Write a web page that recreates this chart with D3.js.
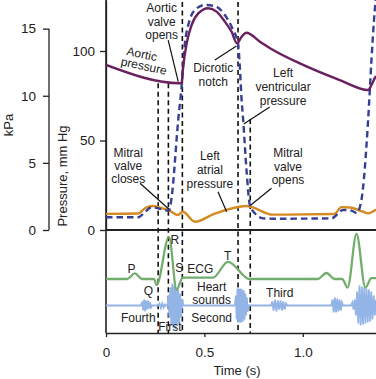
<!DOCTYPE html>
<html>
<head>
<meta charset="utf-8">
<script src="https://cdn.jsdelivr.net/npm/d3@7"></script>
<style>
  body { margin: 0; background: #fff; }
  text { font-family: "Liberation Sans", Arial, sans-serif; font-size: 12px; fill: #222; }
</style>
</head>
<body>
<div id="chart"></div>
<script>
// time (s), pressure (mm Hg)
let aorticPts = [[0, 92.2], [0.376, 82], [0.384, 82.2], [0.392, 91.2], [0.41, 104.3], [0.435, 114.5],
    [0.469, 121], [0.519, 123.9], [0.562, 122], [0.604, 116.4], [0.638, 110.8], [0.666, 104.3],
    [0.689, 108], [0.714, 110.2], [0.782, 105.2], [0.849, 100.6], [0.985, 93.1], [1.188, 83.8],
    [1.332, 78.2], [1.349, 81], [1.365, 84.7], [1.372, 86]];
let lvPts = [[0, 7.1], [0.164, 7.1], [0.198, 10], [0.232, 12.7], [0.283, 11.6], [0.32, 10.8],
    [0.333, 17.9], [0.367, 61.5], [0.384, 80], [0.401, 104.5], [0.418, 114.5], [0.452, 122.9],
    [0.503, 125.7], [0.553, 125.1], [0.604, 120.1], [0.646, 111.7], [0.671, 104.3], [0.68, 91.2],
    [0.688, 74.5], [0.697, 61.5], [0.714, 33.5], [0.731, 14], [0.765, 8.4], [0.798, 6.5],
    [0.85, 6.3], [1.146, 6.5], [1.205, 11.2], [1.247, 10.8], [1.274, 9.5], [1.298, 16.8],
    [1.332, 61.5], [1.349, 95], [1.365, 122], [1.372, 130]];
let atrialPts = [[0, 9.0], [0.162, 9.2], [0.2, 12.3], [0.239, 13.4], [0.29, 12], [0.32, 11],
    [0.365, 8.4], [0.39, 10.2], [0.452, 4.6], [0.55, 9], [0.714, 13.4], [0.848, 8.6],
    [1.16, 8.9], [1.196, 12.8], [1.239, 12.6], [1.306, 10.2], [1.332, 9.3], [1.372, 11.4]];

// ECG, arbitrary units (R wave ~ 1)
let ecgPts = [[0, 0], [0.107, 0], [0.147, 0.13], [0.183, 0], [0.244, 0], [0.257, -0.14],
    [0.32, 0.98], [0.359, -0.25], [0.39, 0.03], [0.543, 0.03], [0.62, 0.4], [0.73, 0],
    [1.076, 0], [1.12, 0.14], [1.162, 0], [1.2, 0], [1.228, -0.2], [1.273, 1.05],
    [1.318, -0.2], [1.349, 0.02], [1.372, 0.02]];

// heart sounds, arbitrary amplitude
let soundPts = [[0, 0], [0.178, 0], [0.184, 0.2], [0.189, -0.25], [0.194, 0.3], [0.199, -0.3],
    [0.204, 0.25], [0.209, -0.2], [0.214, 0.25], [0.219, -0.15], [0.224, 0.15], [0.229, -0.1],
    [0.234, 0], [0.265, 0], [0.272, 0.1], [0.279, -0.12], [0.286, 0.1], [0.293, -0.1],
    [0.3, 0.05], [0.306, 0], [0.312, 0], [0.318, 0.5], [0.322, -0.6], [0.327, 0.9], [0.332, -1.0],
    [0.337, 1.1], [0.342, -1.1], [0.347, 1.0], [0.352, -1.2], [0.357, 0.9], [0.362, -1.0],
    [0.367, 0.8], [0.372, -0.9], [0.377, 0.6], [0.382, -0.6], [0.387, 0.3], [0.392, 0],
    [0.655, 0], [0.66, 0.5], [0.664, -0.7], [0.668, 0.85], [0.672, -0.85], [0.676, 0.85],
    [0.68, -0.85], [0.684, 0.85], [0.688, -0.85], [0.692, 0.8], [0.696, -0.8], [0.7, 0.75],
    [0.704, -0.7], [0.708, 0.6], [0.712, -0.5], [0.716, 0.4], [0.72, -0.3], [0.725, 0],
    [0.838, 0], [0.845, 0.2], [0.852, -0.25], [0.859, 0.3], [0.866, -0.3], [0.873, 0.25],
    [0.88, -0.2], [0.887, 0.25], [0.894, -0.25], [0.901, 0.2], [0.908, -0.2], [0.915, 0.1],
    [0.922, 0], [1.145, 0], [1.151, 0.3], [1.157, -0.35], [1.163, 0.4], [1.169, -0.35],
    [1.175, 0.35], [1.181, -0.3], [1.187, 0.3], [1.193, -0.25], [1.199, 0.15], [1.205, 0],
    [1.245, 0], [1.252, 0.15], [1.258, -0.2], [1.264, 0.3], [1.27, -0.5], [1.276, 0.7],
    [1.282, -0.9], [1.288, 1.0], [1.294, -1.0], [1.3, 0.95], [1.306, -0.95], [1.312, 0.9],
    [1.318, -0.9], [1.324, 0.85], [1.33, -0.85], [1.336, 0.8], [1.342, -0.8], [1.348, 0.7],
    [1.354, -0.7], [1.36, 0.5], [1.366, -0.5], [1.372, 0.3]];

// event markers: time, top pressure (null = full height)
let eventTimes = [0.265, 0.317, 0.388, 0.671, 0.733];
let eventTops = [82, 82, null, null, 62];

let timeTicks = [0, 0.5, 1.0];
let mmTicks = [0, 50, 100];
let kpaTicks = [0, 5, 10, 15];

// annotations in data units: [text, time, pressure]
let pressureNotes = [
    ['Aortic', 0.283, 121.8], ['valve', 0.283, 114.2], ['opens', 0.283, 106.7],
    ['Dicrotic', 0.545, 88], ['notch', 0.545, 80.2],
    ['Left', 0.9, 85.5], ['ventricular', 0.9, 77.7], ['pressure', 0.9, 69.8],
    ['Mitral', 0.113, 40.8], ['valve', 0.113, 33.5], ['closes', 0.113, 26],
    ['Left', 0.528, 39.1], ['atrial', 0.528, 31.3], ['pressure', 0.528, 23.5],
    ['Mitral', 0.925, 40.8], ['valve', 0.925, 33.2], ['opens', 0.925, 25.7]
];
let tiltedNotes = [['Aortic', 0.178, 96.1], ['pressure', 0.188, 89.4]];
let leaders = [
    [0.316, 106.1, 0.367, 82.9], [0.553, 95, 0.663, 102.8], [0.832, 68.7, 0.7, 59.2],
    [0.173, 26.1, 0.32, 11.6], [0.569, 21.4, 0.613, 10.2], [0.841, 23.3, 0.736, 14]
];
// annotations for ECG/sound panel: [text, time, ecg units]
let ecgNotes = [
    ['P', 0.13, 0.14], ['Q', 0.215, -0.372], ['R', 0.35, 0.81], ['S', 0.372, 0.17],
    ['ECG', 0.479, 0.15], ['T', 0.618, 0.44], ['Heart', 0.537, -0.29], ['sounds', 0.537, -0.59],
    ['Fourth', 0.164, -0.99], ['First', 0.325, -1.2], ['Second', 0.537, -0.99], ['Third', 0.883, -0.41]
];

let width = 376, height = 379;

let svg = d3.select('#chart').append('svg')
    .attr('width', width)
    .attr('height', height);

let x = d3.scaleLinear().domain([0, 1.372]).range([106, 376]);
let yP = d3.scaleLinear().domain([0, 128.5]).range([230, 0]);
let yK = d3.scaleLinear().domain([0, 128.5 / 7.5]).range([230, 0]);
let yEcg = d3.scaleLinear().domain([0, 1]).range([279, 236]);
let ySnd = d3.scaleLinear().domain([-1, 1]).range([325.5, 285.5]);

svg.append('clipPath').attr('id', 'plotclip')
    .append('rect').attr('x', 106).attr('y', 0).attr('width', 270).attr('height', 333);

// event dashed lines
svg.append('g').selectAll('line')
    .data(eventTimes)
    .join('line')
    .attr('x1', d => x(d)).attr('x2', d => x(d))
    .attr('y1', (d, i) => eventTops[i] == null ? 2 : yP(eventTops[i]))
    .attr('y2', 333)
    .attr('stroke', '#111')
    .attr('stroke-width', 1.6)
    .attr('stroke-dasharray', '5,3.5');

// axes
let kAxis = svg.append('g')
    .attr('transform', 'translate(49,0)')
    .call(d3.axisLeft(yK).tickValues(kpaTicks).tickSize(6).tickPadding(7).tickSizeOuter(0));
let pAxis = svg.append('g')
    .attr('transform', 'translate(106,0)')
    .call(d3.axisLeft(yP).tickValues(mmTicks).tickSize(6).tickPadding(5).tickSizeOuter(0));
let tAxis = svg.append('g')
    .attr('transform', 'translate(0,333)')
    .call(d3.axisBottom(x).tickValues(timeTicks).tickSize(4).tickPadding(10).tickSizeOuter(0));
tAxis.selectAll('text').text(d => d === 0 ? '0' : d3.format('.1f')(d));
[kAxis, pAxis, tAxis].forEach(a => {
    a.selectAll('text').style('font-size', '13.5px').style('font-family', '"Liberation Sans", Arial, sans-serif').attr('fill', '#222');
    a.selectAll('line').attr('stroke', '#222').attr('stroke-width', 1.3);
    a.select('.domain').attr('stroke', '#222').attr('stroke-width', 1.3);
});
kAxis.select('.domain').attr('d', `M0,${yK(15)}V${yK(0)}`);
svg.append('line').attr('x1', 106).attr('x2', 106).attr('y1', 0).attr('y2', 333)
    .attr('stroke', '#222').attr('stroke-width', 1.6);
svg.append('line').attr('x1', 106).attr('x2', 376).attr('y1', yP(0)).attr('y2', yP(0))
    .attr('stroke', '#222').attr('stroke-width', 2);

svg.append('text').attr('transform', 'translate(13,125) rotate(-90)')
    .attr('text-anchor', 'middle').style('font-size', '13px').text('kPa');
svg.append('text').attr('transform', 'translate(67,176) rotate(-90)')
    .attr('text-anchor', 'middle').style('font-size', '13px').text('Pressure, mm Hg');
svg.append('text').attr('x', 237).attr('y', 375)
    .attr('text-anchor', 'middle').style('font-size', '13px').text('Time (s)');

// curves
let plot = svg.append('g').attr('clip-path', 'url(#plotclip)');
let pLine = d3.line().x(d => x(d[0])).y(d => yP(d[1])).curve(d3.curveMonotoneX);

plot.append('path').datum(atrialPts).attr('d', pLine)
    .attr('fill', 'none').attr('stroke', '#d68b22').attr('stroke-width', 2.4);
plot.append('path').datum(lvPts).attr('d', pLine)
    .attr('fill', 'none').attr('stroke', '#353f96').attr('stroke-width', 2.4)
    .attr('stroke-dasharray', '6.5,4');
plot.append('path').datum(aorticPts).attr('d', pLine)
    .attr('fill', 'none').attr('stroke', '#6a1f5f').attr('stroke-width', 2.4);

plot.append('path').datum(soundPts)
    .attr('d', d3.line().x(d => x(d[0])).y(d => ySnd(d[1])))
    .attr('fill', 'none').attr('stroke', '#93b4e6').attr('stroke-width', 1.8);
plot.append('path').datum(ecgPts)
    .attr('d', d3.line().x(d => x(d[0])).y(d => yEcg(d[1])).curve(d3.curveMonotoneX))
    .attr('fill', 'none').attr('stroke', '#72ad6c').attr('stroke-width', 2.3);

// annotations
svg.append('g').selectAll('line')
    .data(leaders)
    .join('line')
    .attr('x1', d => x(d[0])).attr('y1', d => yP(d[1]))
    .attr('x2', d => x(d[2])).attr('y2', d => yP(d[3]))
    .attr('stroke', '#111').attr('stroke-width', 1.2);

svg.append('g').selectAll('text')
    .data(pressureNotes)
    .join('text')
    .attr('x', d => x(d[1])).attr('y', d => yP(d[2]))
    .attr('text-anchor', 'middle')
    .text(d => d[0]);

svg.append('g').selectAll('text')
    .data(tiltedNotes)
    .join('text')
    .attr('transform', d => `translate(${x(d[1])},${yP(d[2])}) rotate(12)`)
    .attr('text-anchor', 'middle')
    .text(d => d[0]);

svg.append('g').selectAll('text')
    .data(ecgNotes)
    .join('text')
    .attr('x', d => x(d[1])).attr('y', d => yEcg(d[2]))
    .attr('text-anchor', 'middle')
    .text(d => d[0]);
</script>
</body>
</html>
